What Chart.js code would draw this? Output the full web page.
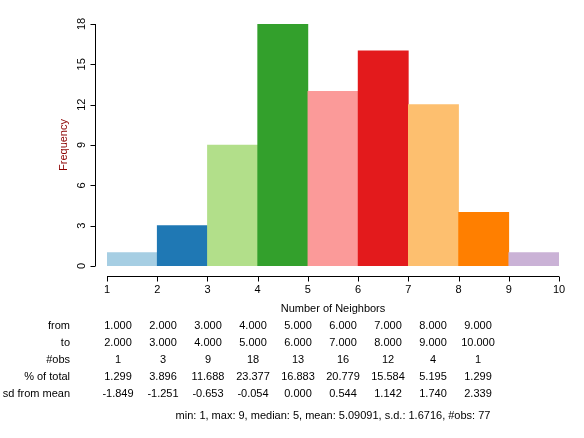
<!DOCTYPE html>
<html>
<head>
<meta charset="utf-8">
<script src="https://cdn.jsdelivr.net/npm/chart.js@4"></script>
<style>
  html, body { margin: 0; padding: 0; background: #fff; }
  #wrap { width: 584px; height: 438px; }
</style>
</head>
<body>
<div id="wrap"><canvas id="hist"></canvas></div>
<script>
const binFrom = [1, 2, 3, 4, 5, 6, 7, 8, 9];
const binTo = [2, 3, 4, 5, 6, 7, 8, 9, 10];
const counts = [1, 3, 9, 18, 13, 16, 12, 4, 1];
const pctTotal = ["1.299", "3.896", "11.688", "23.377", "16.883", "20.779", "15.584", "5.195", "1.299"];
const sdFromMean = ["-1.849", "-1.251", "-0.653", "-0.054", "0.000", "0.544", "1.142", "1.740", "2.339"];
const xTicks = [1, 2, 3, 4, 5, 6, 7, 8, 9, 10];
const yTicks = [0, 3, 6, 9, 12, 15, 18];
const colores = ["#A6CEE3", "#1F78B4", "#B2DF8A", "#33A02C", "#FB9A99", "#E31A1C", "#FDBF6F", "#FF7F00", "#CAB2D6"];
const summary = "min: 1, max: 9, median: 5, mean: 5.09091, s.d.: 1.6716, #obs: 77";

const FONT = "11px 'Liberation Sans', Arial, sans-serif";

// ejes y tabla al estilo R
const rAxes = {
  id: "rAxes",
  afterDraw(chart) {
    const ctx = chart.ctx;
    const xs = chart.scales.x, ys = chart.scales.y;
    ctx.save();
    ctx.strokeStyle = "#000";
    ctx.fillStyle = "#000";
    ctx.lineWidth = 1;
    ctx.font = FONT;

    // eje x
    const axY = 276.5;
    ctx.beginPath();
    ctx.moveTo(xs.getPixelForValue(xTicks[0]), axY);
    ctx.lineTo(xs.getPixelForValue(xTicks[xTicks.length - 1]), axY);
    xTicks.forEach(t => {
      const px = Math.round(xs.getPixelForValue(t)) + 0.5;
      ctx.moveTo(px, axY);
      ctx.lineTo(px, axY + 5);
    });
    ctx.stroke();
    ctx.textAlign = "center";
    ctx.textBaseline = "middle";
    xTicks.forEach(t => ctx.fillText(String(t), xs.getPixelForValue(t), 290));
    ctx.fillText("Number of Neighbors", 333, 309);

    // eje y
    const axX = 95.5;
    ctx.beginPath();
    ctx.moveTo(axX, ys.getPixelForValue(yTicks[0]));
    ctx.lineTo(axX, ys.getPixelForValue(yTicks[yTicks.length - 1]));
    yTicks.forEach(t => {
      const py = Math.round(ys.getPixelForValue(t)) + 0.5;
      ctx.moveTo(axX, py);
      ctx.lineTo(axX - 5, py);
    });
    ctx.stroke();
    yTicks.forEach(t => {
      ctx.save();
      ctx.translate(82, ys.getPixelForValue(t));
      ctx.rotate(-Math.PI / 2);
      ctx.fillText(String(t), 0, 0);
      ctx.restore();
    });
    ctx.save();
    ctx.translate(64, 145);
    ctx.rotate(-Math.PI / 2);
    ctx.fillStyle = "#8B0000";
    ctx.fillText("Frequency", 0, 0);
    ctx.restore();

    // tabla
    const rows = [
      ["from", binFrom.map(v => v.toFixed(3))],
      ["to", binTo.map(v => v.toFixed(3))],
      ["#obs", counts.map(String)],
      ["% of total", pctTotal],
      ["sd from mean", sdFromMean],
    ];
    rows.forEach((r, i) => {
      const y = 326 + i * 17;
      ctx.textAlign = "right";
      ctx.fillText(r[0], 70, y);
      ctx.textAlign = "center";
      r[1].forEach((v, j) => ctx.fillText(v, 118 + j * 45, y));
    });
    ctx.fillText(summary, 333, 416);
    ctx.restore();
  }
};

new Chart(document.getElementById("hist"), {
  type: "bar",
  data: {
    datasets: [{
      data: counts.map((c, i) => ({ x: (binFrom[i] + binTo[i]) / 2, y: c })),
      backgroundColor: colores,
      borderWidth: 0,
      barPercentage: 1,
      categoryPercentage: 1,
    }],
  },
  options: {
    responsive: true,
    maintainAspectRatio: false,
    animation: false,
    layout: { padding: { left: 107, right: 25, top: 24, bottom: 172 } },
    plugins: { legend: { display: false }, tooltip: { enabled: false } },
    scales: {
      x: { type: "linear", min: 1, max: 10, offset: false, display: false },
      y: { min: 0, max: 18, display: false },
    },
  },
  plugins: [rAxes],
});
</script>
</body>
</html>
